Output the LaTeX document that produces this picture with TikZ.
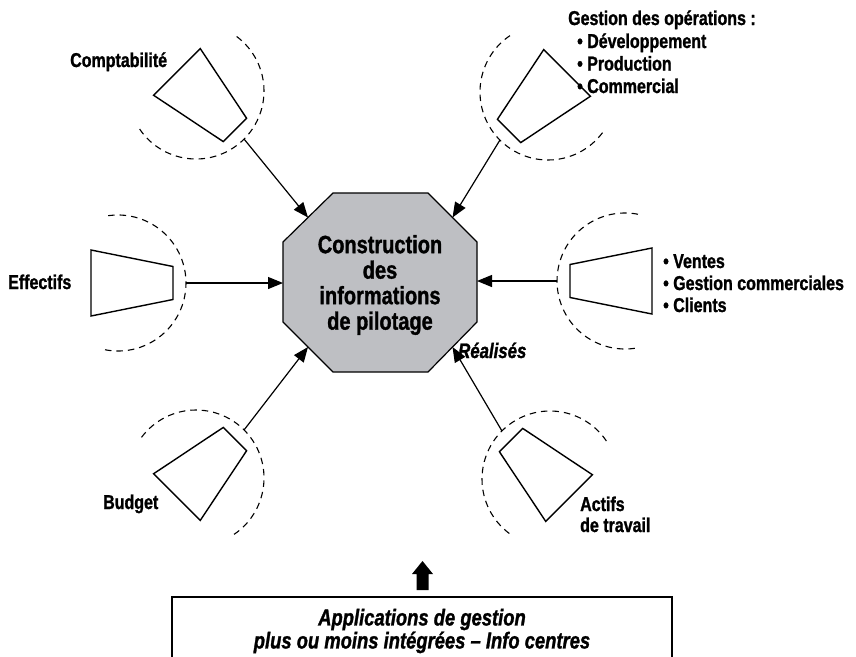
\documentclass[tikz,border=0pt]{standalone}
\usepackage{fontspec}
\setmainfont{Liberation Sans}[FakeStretch=0.8, BoldFeatures={FakeBold=1.2}, BoldItalicFeatures={FakeBold=1.2}]
\usetikzlibrary{arrows.meta}
\definecolor{octfill}{RGB}{190,191,195}
\tikzset{
  x=1pt, y=-1pt,
  conn/.style={line width=1.2pt, -{Triangle[length=15pt,width=12pt]}},
  funnel/.style={line width=1.4pt, line join=miter},
  halo/.style={line width=1.1pt, dash pattern=on 6.5pt off 5pt},
  lbl/.style={font=\fontsize{20}{22}\selectfont\bfseries, inner sep=0pt, anchor=base west},
  pics/feeder/.style={code={
    \draw[halo] (101:68) arc[start angle=101, end angle=-101, radius=68];
    \draw[funnel] (55,-16.5) -- (55,16.5) -- (-27,33) -- (-27,-33) -- cycle;
    \coordinate (-out) at (68,0);
  }}
}
\begin{document}
\begin{tikzpicture}
\useasboundingbox (0,0) rectangle (856,656);
\clip (0,0) rectangle (856,656);

% central octagon
\draw[line width=1.2pt, fill=octfill]
  (333,193) -- (428,193) -- (477,242) -- (477,322) -- (428,372)
  -- (333,372) -- (283,322) -- (283,242) -- cycle;
\node[font=\fontsize{25}{25.5}\selectfont\bfseries, align=center, inner sep=0pt]
  (oct) at (380,285) {Construction\\des\\informations\\de pilotage};
\coordinate (oct-ul) at (308,217.5);
\coordinate (oct-ur) at (452.5,217.5);
\coordinate (oct-l)  at (283,283);
\coordinate (oct-r)  at (477,281);
\coordinate (oct-ll) at (308,347);
\coordinate (oct-lr) at (452.5,347);

% feeding sources
\pic[rotate=-45] (compta) at (196,91)  {feeder};
\pic[rotate=225] (gestop) at (548,92)  {feeder};
\pic[rotate=0]   (effec)  at (118,283) {feeder};
\pic[rotate=180] (ventes) at (625,281) {feeder};
\pic[rotate=45]  (budget) at (196,478) {feeder};
\pic[rotate=135] (actifs) at (550,479) {feeder};

\draw[conn] (compta-out) -- (oct-ul);
\draw[conn] (gestop-out) -- (oct-ur);
\draw[conn] (effec-out)  -- (oct-l);
\draw[conn] (ventes-out) -- (oct-r);
\draw[conn] (budget-out) -- (oct-ll);
\draw[conn] (actifs-out) -- (oct-lr);

% labels
\node[lbl] (tcompta) at (70,67) {Comptabilité};
\node[lbl] (tgest0) at (568,25) {Gestion des opérations :};
\node[lbl] (tgest1) at (577,48) {• Développement};
\node[lbl] (tgest2) at (577,70.5) {• Production};
\node[lbl] (tgest3) at (577,93) {• Commercial};
\node[lbl] (teffec) at (8,289) {Effectifs};
\node[lbl] (tvent1) at (663,268) {• Ventes};
\node[lbl] (tvent2) at (663,290) {• Gestion commerciales};
\node[lbl] (tvent3) at (663,312) {• Clients};
\node[lbl] (tbudget) at (103,509) {Budget};
\node[lbl] (tact1) at (580,511) {Actifs};
\node[lbl] (tact2) at (580,532) {de travail};
\node[lbl, font=\fontsize{21}{22}\selectfont\bfseries\itshape] (treal) at (458,358) {Réalisés};

% applications box and the broad upward arrow above it
\draw[line width=1.2pt] (172,700) -- (172,597) -- (672,597) -- (672,700);
\node[font=\fontsize{23}{23}\selectfont\bfseries\itshape, align=center, inner sep=0pt]
  (apps) at (422,631) {Applications de gestion\\plus ou moins intégrées – Info centres};
\fill (416.5,590) -- (416.5,574) -- (412,574) -- (422.5,561) -- (433,574)
  -- (428.5,574) -- (428.5,590) -- cycle;
\end{tikzpicture}
\end{document}
